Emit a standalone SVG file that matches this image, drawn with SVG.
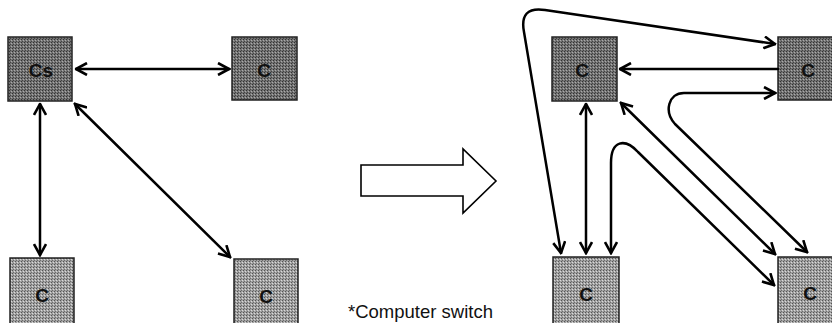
<svg xmlns="http://www.w3.org/2000/svg" width="832" height="323" viewBox="0 0 832 323">
  <defs>
    <pattern id="dark" width="3" height="3" patternUnits="userSpaceOnUse">
      <rect width="3" height="3" fill="#747474"/>
      <rect x="0" y="0" width="1" height="1" fill="#333"/>
      <rect x="2" y="1" width="1" height="1" fill="#aaa"/>
      <rect x="1" y="2" width="1" height="1" fill="#444"/>
    </pattern>
    <pattern id="light" width="3" height="3" patternUnits="userSpaceOnUse">
      <rect width="3" height="3" fill="#a2a2a2"/>
      <rect x="0" y="0" width="1" height="1" fill="#555"/>
      <rect x="2" y="1" width="1" height="1" fill="#dadada"/>
      <rect x="1" y="2" width="1" height="1" fill="#6e6e6e"/>
    </pattern>
    <marker id="ah" viewBox="0 0 14 14" refX="12.5" refY="7" markerWidth="14" markerHeight="14" markerUnits="userSpaceOnUse" orient="auto-start-reverse">
      <path d="M1.5,1 L12.5,7 L1.5,13" fill="none" stroke="#000" stroke-width="2.6" stroke-linejoin="miter"/>
    </marker>
    <style>
      .box-d { fill: url(#dark); stroke: #222; stroke-width: 1.5; }
      .box-l { fill: url(#light); stroke: #222; stroke-width: 1.5; }
      .lbl { font-family: "Liberation Sans", Arial, sans-serif; font-weight: bold; font-size: 19px; fill: #111; text-anchor: middle; }
      .c { fill: none; stroke: #000; stroke-width: 2.5; stroke-linejoin: round; stroke-linecap: round; }
      .note { font-family: "Liberation Sans", Arial, sans-serif; font-size: 18.5px; fill: #111; }
    </style>
  </defs>

  <!-- Left panel nodes -->
  <g id="L_Cs"><rect class="box-d" x="8" y="37" width="64" height="64"/><text class="lbl" x="41" y="77">Cs</text></g>
  <g id="L_C_tr"><rect class="box-d" x="232" y="37" width="65" height="63"/><text class="lbl" x="264" y="77">C</text></g>
  <g id="L_C_bl"><rect class="box-l" x="10" y="258" width="64" height="66"/><text class="lbl" x="42" y="302">C</text></g>
  <g id="L_C_br"><rect class="box-l" x="234" y="259" width="64" height="65"/><text class="lbl" x="266" y="303">C</text></g>

  <!-- Right panel nodes -->
  <g id="R_C_tl"><rect class="box-d" x="552" y="37" width="65" height="64"/><text class="lbl" x="582" y="77">C</text></g>
  <g id="R_C_tr"><rect class="box-d" x="778" y="37" width="66" height="63"/><text class="lbl" x="808" y="77">C</text></g>
  <g id="R_C_bl"><rect class="box-l" x="553" y="257" width="66" height="67"/><text class="lbl" x="586" y="301">C</text></g>
  <g id="R_C_br"><rect class="box-l" x="778" y="257" width="66" height="67"/><text class="lbl" x="810" y="300">C</text></g>

  <!-- Transition arrow -->
  <g id="transition">
    <path d="M361,165 L463,165 L463,149 L496,181 L463,213 L463,196 L361,196 Z" fill="#fff" stroke="#000" stroke-width="1.6" stroke-linejoin="miter"/>
  </g>

  <g id="footnote"><text class="note" x="348" y="318">*Computer switch</text></g>

  <!-- Connectors -->
  <g id="connectors">
    <!-- left panel -->
    <path class="c" d="M76,69 L229,69" marker-start="url(#ah)" marker-end="url(#ah)"/>
    <path class="c" d="M40,104 L40,255" marker-start="url(#ah)" marker-end="url(#ah)"/>
    <path class="c" d="M75,104 L230,257" marker-start="url(#ah)" marker-end="url(#ah)"/>
    <!-- right panel -->
    <path class="c" d="M561,253 L524,32 Q519,6 545,10 L775,44" marker-start="url(#ah)" marker-end="url(#ah)"/>
    <path class="c" d="M778,69 L620,69" marker-end="url(#ah)"/>
    <path class="c" d="M586,104 L586,253" marker-start="url(#ah)" marker-end="url(#ah)"/>
    <path class="c" d="M621,103 L775,254" marker-start="url(#ah)" marker-end="url(#ah)"/>
    <path class="c" d="M611,253 L611,163 C611,140 625,138 638,152 L774,285" marker-start="url(#ah)" marker-end="url(#ah)"/>
    <path class="c" d="M775,93 L684,93 C668,93 664,112 675,124 L807,252" marker-start="url(#ah)" marker-end="url(#ah)"/>
  </g>
</svg>
